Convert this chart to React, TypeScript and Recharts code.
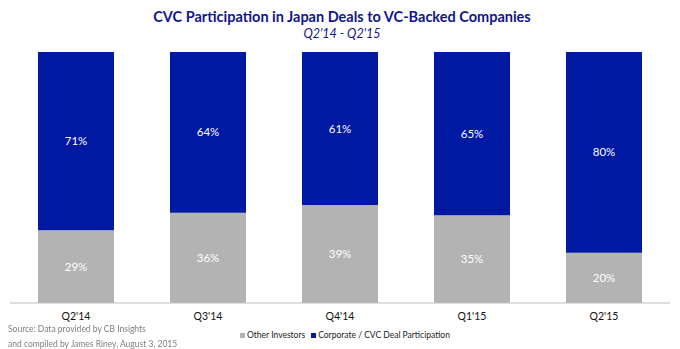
import { BarChart, Bar, XAxis, YAxis, LabelList } from "recharts";

const quarters = ["Q2'14", "Q3'14", "Q4'14", "Q1'15", "Q2'15"];
const otherInvestors = [29, 36, 39, 35, 20];
const corporateCvc = [71, 64, 61, 65, 80];

const BLUE = "#0019A3";
const GRAY = "#B3B3B3";
const FONT = "Lato, 'Open Sans', sans-serif";

const data = quarters.map((q, i) => ({
  quarter: q,
  other: otherInvestors[i],
  cvc: corporateCvc[i],
}));

const legendItems = [
  { name: "Other Investors", color: GRAY },
  { name: "Corporate / CVC Deal Participation", color: BLUE },
];

const sourceLines = [
  "Source: Data provided by CB Insights",
  "and compiled by James Riney, August 3, 2015",
];

export default function App() {
  return (
    <div style={{ position: "fixed", left: 0, top: 0, width: 680, height: 349, background: "#fff" }}>
      <div
        style={{
          position: "absolute",
          top: 8,
          left: 0,
          width: 684,
          textAlign: "center",
          fontFamily: FONT,
          fontWeight: 700,
          fontSize: 14.5,
          color: "#10168C",
        }}
      >
        CVC Participation in Japan Deals to VC-Backed Companies
      </div>
      <div
        style={{
          position: "absolute",
          top: 26,
          left: 0,
          width: 684,
          textAlign: "center",
          fontFamily: FONT,
          fontStyle: "italic",
          fontSize: 12.5,
          color: "#10168C",
        }}
      >
        Q2'14 - Q2'15
      </div>
      <BarChart
        width={680}
        height={349}
        data={data}
        margin={{ top: 52, right: 10, left: 10, bottom: 16 }}
        barSize={76}
      >
        <YAxis hide domain={[0, 100]} />
        <XAxis
          dataKey="quarter"
          height={30}
          axisLine={{ stroke: "#BFBFBF" }}
          tickLine={false}
          tick={{ fill: "#111", fontSize: 10.5, fontFamily: FONT }}
          tickMargin={4}
        />
        <Bar dataKey="other" name="Other Investors" stackId="a" fill={GRAY} isAnimationActive={false}>
          <LabelList
            dataKey="other"
            position="center"
            fill="#fff"
            fontSize={11.5}
            fontFamily={FONT}
            formatter={(v: any) => `${v}%`}
          />
        </Bar>
        <Bar dataKey="cvc" name="Corporate / CVC Deal Participation" stackId="a" fill={BLUE} isAnimationActive={false}>
          <LabelList
            dataKey="cvc"
            position="center"
            fill="#fff"
            fontSize={11.5}
            fontFamily={FONT}
            formatter={(v: any) => `${v}%`}
          />
        </Bar>
      </BarChart>
      <div
        style={{
          position: "absolute",
          left: 240,
          top: 330,
          display: "flex",
          gap: 6,
          fontFamily: FONT,
          fontSize: 8.5,
          color: "#222",
        }}
      >
        {legendItems.map((it) => (
          <span key={it.name} style={{ display: "flex", alignItems: "center", gap: 2 }}>
            <span style={{ width: 5, height: 5, background: it.color, display: "inline-block" }} />
            {it.name}
          </span>
        ))}
      </div>
      {sourceLines.map((line, i) => (
        <div
          key={line}
          style={{
            position: "absolute",
            left: 8,
            top: 323 + i * 15,
            fontFamily: FONT,
            fontSize: 8.5,
            lineHeight: "12px",
            color: "#7F7F7F",
            whiteSpace: "nowrap",
          }}
        >
          {line}
        </div>
      ))}
    </div>
  );
}
